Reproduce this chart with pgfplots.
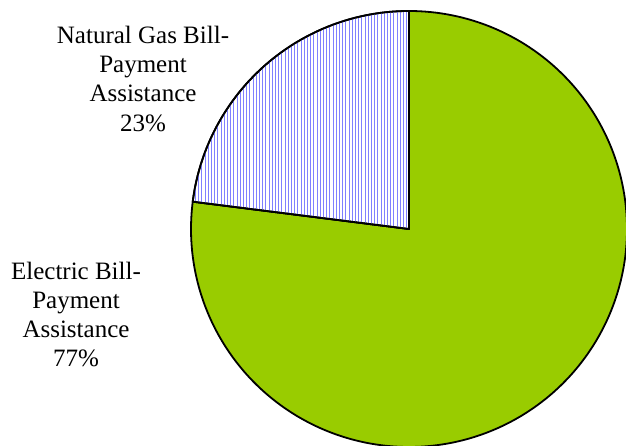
\documentclass[border=0pt]{standalone}
\usepackage{fontspec}
\setmainfont{Liberation Serif}
\usepackage{pgfplots}
\pgfplotsset{compat=1.18}
\usetikzlibrary{patterns.meta}
\definecolor{piegreen}{HTML}{99CC00}
\definecolor{hatchblue}{rgb}{0.5,0.5,1}
\begin{document}
\begin{tikzpicture}
% shares (percent)
\def\gasval{23}
\def\elecval{77}
\pgfmathsetmacro{\gasend}{90+\gasval*3.6}
\pgfmathsetmacro{\elecend}{\gasend+\elecval*3.6}
\begin{axis}[
  x=1bp, y=1bp,
  xmin=0, xmax=626, ymin=0, ymax=446,
  hide axis, clip=true,
]
% Electric slice
\addplot[draw=black, line width=1.8bp, line join=round, fill=piegreen,
  domain=\gasend:\elecend, samples=300]
  ({409+218*cos(x)}, {217+218*sin(x)}) -- (axis cs:409,217) -- cycle;
% Natural gas slice
\addplot[draw=black, line width=1.8bp, line join=round,
  preaction={fill=white},
  pattern={Lines[angle=90, distance=3.2bp, line width=0.6bp]},
  pattern color=hatchblue,
  domain=90:\gasend, samples=120]
  ({409+218*cos(x)}, {217+218*sin(x)}) -- (axis cs:409,217) -- cycle;
\node[align=center, inner sep=0pt, font=\fontsize{25bp}{29bp}\selectfont]
  at (axis cs:143,367) {Natural Gas Bill-\\Payment\\Assistance\\23\%};
\node[align=center, inner sep=0pt, font=\fontsize{25bp}{29bp}\selectfont]
  at (axis cs:76,132) {Electric Bill-\\Payment\\Assistance\\77\%};
\end{axis}
\pgfresetboundingbox
\path (current axis.south west) rectangle (current axis.north east);
\end{tikzpicture}
\end{document}
